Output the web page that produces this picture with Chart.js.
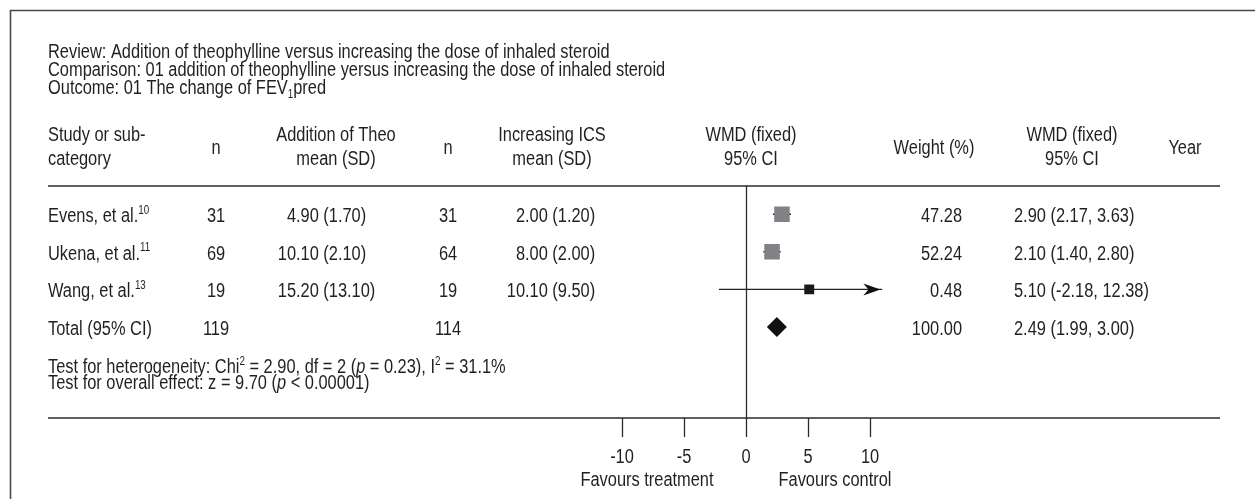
<!DOCTYPE html>
<html><head><meta charset="utf-8">
<script src="https://cdn.jsdelivr.net/npm/chart.js@4.4.1/dist/chart.umd.min.js"></script>
<style>html,body{margin:0;padding:0;background:#fff;overflow:hidden}canvas{display:block}</style>
</head><body>
<canvas id="c" width="1255" height="499"></canvas>
<script>
// ---- data ----
const studies = ['Evens, et al.', 'Ukena, et al.', 'Wang, et al.'];
const refNums = ['10', '11', '13'];
const nTheo = [31, 69, 19];
const meanTheo = [4.90, 10.10, 15.20];
const sdTheo = [1.70, 2.10, 13.10];
const nICS = [31, 64, 19];
const meanICS = [2.00, 8.00, 10.10];
const sdICS = [1.20, 2.00, 9.50];
const weights = [47.28, 52.24, 0.48];
const wmd = [2.90, 2.10, 5.10];
const ciLow = [2.17, 1.40, -2.18];
const ciHigh = [3.63, 2.80, 12.38];
const totalLabel = 'Total (95% CI)';
const totalNTheo = 119, totalNICS = 114, totalWeight = 100.00;
const totalWmd = 2.49, totalLow = 1.99, totalHigh = 3.00;
const tickValues = [-10, -5, 0, 5, 10];
const titleLines = [
  'Review: Addition of theophylline versus increasing the dose of inhaled steroid',
  'Comparison: 01 addition of theophylline yersus increasing the dose of inhaled steroid'
];

// ---- layout / style ----
const FAM = "'Liberation Sans', Arial, sans-serif";
const FS = 20;
const SX = 0.82;            // horizontal condensing of the text face
const INK = '#231f20';
const X_MIN = -11, X_MAX = 11;
const LEFT = 48, RIGHT = 1220, SEP_Y = 186, BOT_Y = 418;

function f2(v) { return v.toFixed(2); }

function rich(ctx, parts, x, y, size, align) {
  const fontOf = s => (s === 'i' ? 'italic ' : '') + ((s === 'sup' || s === 'sub') ? Math.round(size * 0.58) : size) + 'px ' + FAM;
  let w = 0;
  parts.forEach(p => { ctx.font = fontOf(p[1]); w += ctx.measureText(p[0]).width * SX; });
  let cx = align === 'center' ? x - w / 2 : (align === 'right' ? x - w : x);
  ctx.textAlign = 'left';
  parts.forEach(p => {
    ctx.font = fontOf(p[1]);
    const dy = p[1] === 'sup' ? -size * 0.42 : (p[1] === 'sub' ? size * 0.18 : 0);
    ctx.save();
    ctx.translate(cx, y + dy);
    ctx.scale(SX, 1);
    ctx.fillText(p[0], 0, 0);
    ctx.restore();
    cx += ctx.measureText(p[0]).width * SX;
  });
}
function txt(ctx, s, x, y, align) { rich(ctx, [[s, '']], x, y, FS, align); }
function dotAligned(ctx, s, dotX, y) {
  const k = s.indexOf('.');
  ctx.font = FS + 'px ' + FAM;
  const w = ctx.measureText(s.slice(0, k)).width * SX;
  txt(ctx, s, dotX - w, y, 'left');
}

const forestPlugin = {
  id: 'forest',
  beforeDatasetsDraw(chart) {
    const ctx = chart.ctx, x = chart.scales.x;
    ctx.save();
    // frame
    ctx.strokeStyle = '#4a4a4a'; ctx.lineWidth = 1.6;
    ctx.beginPath(); ctx.moveTo(10.5, 499); ctx.lineTo(10.5, 10.5); ctx.lineTo(1255, 10.5); ctx.stroke();
    // rules
    ctx.strokeStyle = '#2a2a2a'; ctx.lineWidth = 1.6;
    ctx.beginPath(); ctx.moveTo(LEFT, SEP_Y); ctx.lineTo(RIGHT, SEP_Y); ctx.stroke();
    ctx.beginPath(); ctx.moveTo(LEFT, BOT_Y); ctx.lineTo(RIGHT, BOT_Y); ctx.stroke();
    // zero line
    const p0 = Math.round(x.getPixelForValue(0)) + 0.5;
    ctx.lineWidth = 1.3;
    ctx.beginPath(); ctx.moveTo(p0, SEP_Y); ctx.lineTo(p0, BOT_Y); ctx.stroke();
    // ticks
    tickValues.forEach(v => {
      const px = Math.round(x.getPixelForValue(v)) + 0.5;
      ctx.beginPath(); ctx.moveTo(px, BOT_Y); ctx.lineTo(px, BOT_Y + 19); ctx.stroke();
    });
    ctx.restore();
  },
  afterDatasetsDraw(chart) {
    const ctx = chart.ctx, x = chart.scales.x, y = chart.scales.y;
    ctx.save();
    ctx.fillStyle = '#111';
    ciHigh.forEach((h, i) => {
      if (h > X_MAX) {
        const tx = x.getPixelForValue(X_MAX) - 2, ty = y.getPixelForValue(i + 1);
        ctx.beginPath();
        ctx.moveTo(tx, ty); ctx.lineTo(tx - 17, ty - 6); ctx.lineTo(tx - 12, ty); ctx.lineTo(tx - 17, ty + 6);
        ctx.closePath(); ctx.fill();
      }
    });
    ctx.restore();
  },
  afterDraw(chart) {
    const ctx = chart.ctx, x = chart.scales.x, y = chart.scales.y;
    ctx.save();
    ctx.fillStyle = INK;
    ctx.textBaseline = 'alphabetic';
    // titles
    txt(ctx, titleLines[0], LEFT, 58, 'left');
    txt(ctx, titleLines[1], LEFT, 76, 'left');
    rich(ctx, [['Outcome: 01 The change of FEV', ''], ['1', 'sub'], ['pred', '']], LEFT, 94, FS, 'left');
    // header
    const h1 = 141, h2 = 165, hm = 154;
    txt(ctx, 'Study or sub-', LEFT, h1, 'left');
    txt(ctx, 'category', LEFT, h2, 'left');
    txt(ctx, 'n', 216, hm, 'center');
    txt(ctx, 'Addition of Theo', 336, h1, 'center');
    txt(ctx, 'mean (SD)', 336, h2, 'center');
    txt(ctx, 'n', 448, hm, 'center');
    txt(ctx, 'Increasing ICS', 552, h1, 'center');
    txt(ctx, 'mean (SD)', 552, h2, 'center');
    txt(ctx, 'WMD (fixed)', 751, h1, 'center');
    txt(ctx, '95% CI', 751, h2, 'center');
    txt(ctx, 'Weight (%)', 934, hm, 'center');
    txt(ctx, 'WMD (fixed)', 1072, h1, 'center');
    txt(ctx, '95% CI', 1072, h2, 'center');
    txt(ctx, 'Year', 1185, hm, 'center');
    // rows
    studies.forEach((s, i) => {
      const by = y.getPixelForValue(i + 1) + 8;
      rich(ctx, [[s, ''], [refNums[i], 'sup']], LEFT, by, FS, 'left');
      txt(ctx, String(nTheo[i]), 216, by, 'center');
      dotAligned(ctx, f2(meanTheo[i]) + ' (' + f2(sdTheo[i]) + ')', 296, by);
      txt(ctx, String(nICS[i]), 448, by, 'center');
      dotAligned(ctx, f2(meanICS[i]) + ' (' + f2(sdICS[i]) + ')', 525, by);
      txt(ctx, f2(weights[i]), 962, by, 'right');
      txt(ctx, f2(wmd[i]) + ' (' + f2(ciLow[i]) + ', ' + f2(ciHigh[i]) + ')', 1014, by, 'left');
    });
    const ty = y.getPixelForValue(studies.length + 1) + 8;
    txt(ctx, totalLabel, LEFT, ty, 'left');
    txt(ctx, String(totalNTheo), 216, ty, 'center');
    txt(ctx, String(totalNICS), 448, ty, 'center');
    txt(ctx, f2(totalWeight), 962, ty, 'right');
    txt(ctx, f2(totalWmd) + ' (' + f2(totalLow) + ', ' + f2(totalHigh) + ')', 1014, ty, 'left');
    // tests
    rich(ctx, [['Test for heterogeneity: Chi', ''], ['2', 'sup'], [' = 2.90, df = 2 (', ''], ['p', 'i'], [' = 0.23), I', ''], ['2', 'sup'], [' = 31.1%', '']], LEFT, 373, FS, 'left');
    rich(ctx, [['Test for overall effect: z = 9.70 (', ''], ['p', 'i'], [' < 0.00001)', '']], LEFT, 389, FS, 'left');
    // axis labels
    tickValues.forEach(v => txt(ctx, String(v), x.getPixelForValue(v), 463, 'center'));
    txt(ctx, 'Favours treatment', 647, 486, 'center');
    txt(ctx, 'Favours control', 835, 486, 'center');
    ctx.restore();
  }
};

const datasets = [
  {
    type: 'scatter', label: 'studies',
    data: studies.map((s, i) => ({ x: wmd[i], y: i + 1 })),
    pointStyle: 'rect',
    pointRadius: c => (weights[c.dataIndex] > 5 ? 11 : 7),
    backgroundColor: c => (weights[c.dataIndex] > 5 ? '#808285' : '#1a1a1a'),
    borderWidth: 0
  },
  {
    type: 'scatter', label: 'total',
    data: [{ x: totalWmd, y: studies.length + 1 }],
    pointStyle: 'rectRot', pointRadius: 10,
    backgroundColor: '#111', borderWidth: 0
  }
].concat(studies.map((s, i) => ({
  type: 'line', label: s + ' CI',
  data: [{ x: ciLow[i], y: i + 1 }, { x: Math.min(ciHigh[i], X_MAX), y: i + 1 }],
  borderColor: '#222', borderWidth: 1.4, pointRadius: 0, fill: false
})));

new Chart(document.getElementById('c'), {
  type: 'scatter',
  data: { datasets },
  options: {
    responsive: false, animation: false, devicePixelRatio: 1, events: [],
    layout: { padding: { left: 746 - 11 * 12.4, right: 1255 - (746 + 11 * 12.4), top: SEP_Y, bottom: 499 - BOT_Y } },
    scales: {
      x: { type: 'linear', min: X_MIN, max: X_MAX, display: false },
      y: { type: 'linear', min: 0.25, max: 6.42, reverse: true, display: false }
    },
    plugins: { legend: { display: false }, tooltip: { enabled: false } }
  },
  plugins: [forestPlugin]
});
</script>
</body></html>
